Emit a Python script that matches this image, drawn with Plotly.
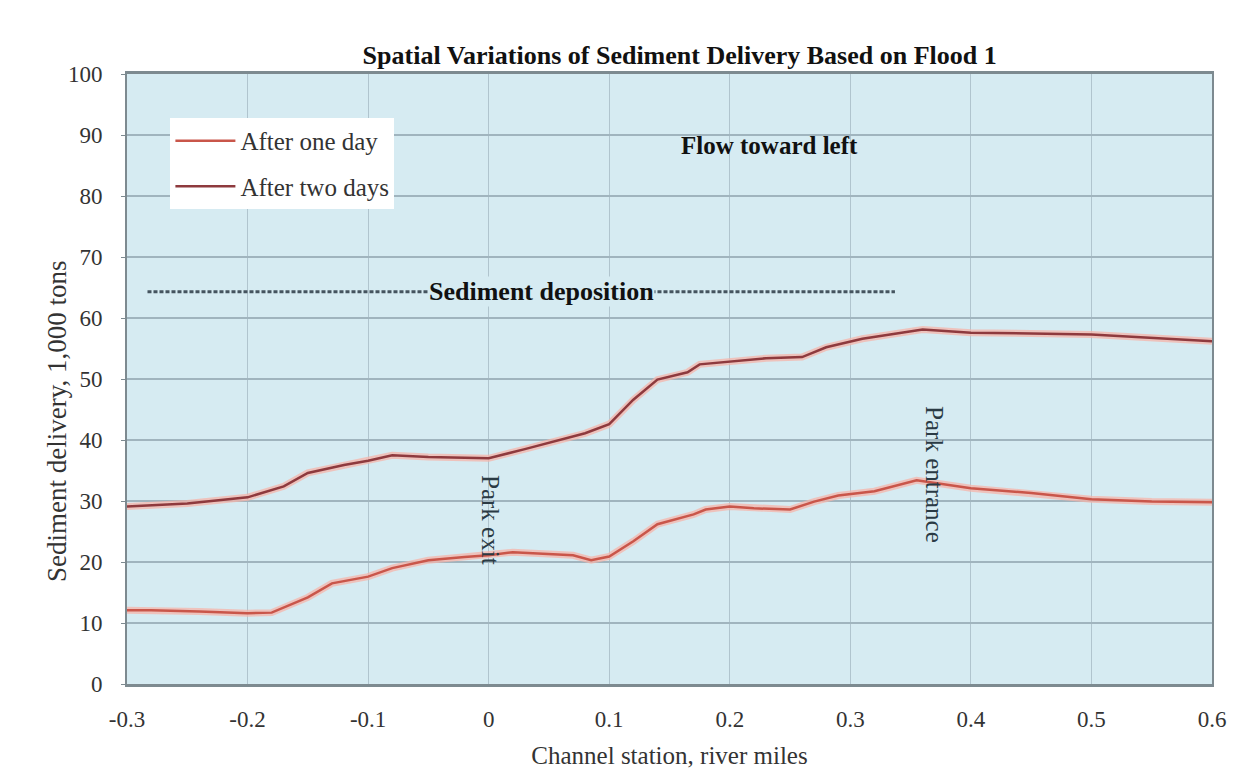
import plotly.graph_objects as go

# Data
x_one_day = [-0.3, -0.28, -0.24, -0.2, -0.18, -0.15, -0.13, -0.1, -0.08, -0.05, -0.02, 0.0, 0.02,
             0.05, 0.07, 0.085, 0.1, 0.12, 0.14, 0.17, 0.18, 0.2, 0.22, 0.25, 0.27, 0.29, 0.32,
             0.355, 0.4, 0.45, 0.5, 0.55, 0.6]
y_one_day = [12.1, 12.1, 11.9, 11.6, 11.7, 14.2, 16.5, 17.6, 19.0, 20.3, 20.8, 21.1, 21.6,
             21.3, 21.1, 20.3, 20.9, 23.4, 26.2, 27.8, 28.6, 29.1, 28.8, 28.6, 29.9, 30.9, 31.6,
             33.4, 32.1, 31.3, 30.3, 29.9, 29.8]

x_two_days = [-0.3, -0.25, -0.2, -0.17, -0.15, -0.12, -0.1, -0.08, -0.05, 0.0, 0.03, 0.06, 0.08,
              0.1, 0.12, 0.14, 0.165, 0.175, 0.2, 0.23, 0.26, 0.28, 0.31, 0.36, 0.4, 0.5, 0.6]
y_two_days = [29.1, 29.6, 30.6, 32.4, 34.6, 35.9, 36.6, 37.5, 37.2, 37.0, 38.5, 40.1, 41.1,
              42.6, 46.6, 49.9, 51.1, 52.4, 52.9, 53.4, 53.6, 55.2, 56.6, 58.1, 57.6, 57.3, 56.2]

series_names = ["After one day", "After two days"]
x_ticks = [-0.3, -0.2, -0.1, 0, 0.1, 0.2, 0.3, 0.4, 0.5, 0.6]
x_tick_labels = ["-0.3", "-0.2", "-0.1", "0", "0.1", "0.2", "0.3", "0.4", "0.5", "0.6"]
y_ticks = [0, 10, 20, 30, 40, 50, 60, 70, 80, 90, 100]

deposition_start, deposition_end, deposition_level = -0.283, 0.337, 64.3

FONT = "Liberation Serif"
BG = "#d6ebf2"

fig = go.Figure()
# soft halos under the lines
for xs, ys in [(x_one_day, y_one_day), (x_two_days, y_two_days)]:
    fig.add_trace(go.Scatter(x=xs, y=ys, mode="lines", showlegend=False, hoverinfo="skip",
                             line=dict(color="rgba(245,180,170,0.75)", width=7)))
fig.add_trace(go.Scatter(x=x_one_day, y=y_one_day, mode="lines", name=series_names[0],
                         legendgroup="a", line=dict(color="#c9564a", width=2.5)))
fig.add_trace(go.Scatter(x=x_two_days, y=y_two_days, mode="lines", name=series_names[1],
                         legendgroup="b", line=dict(color="#8e3a3e", width=2.5)))

# Sediment deposition dashed line
fig.add_shape(type="line", x0=deposition_start, x1=deposition_end, y0=deposition_level,
              y1=deposition_level, xref="x", yref="y",
              line=dict(color="#45545f", width=3, dash="4px,2px"))
fig.add_annotation(x=0.044, y=deposition_level, text="<b>Sediment deposition</b>", showarrow=False,
                   font=dict(family=FONT, size=26, color="#111"), bgcolor=BG, borderpad=0)
fig.add_annotation(x=0.233, y=88.2, text="<b>Flow toward left</b>", showarrow=False,
                   font=dict(family=FONT, size=25, color="#111"))
fig.add_annotation(x=0.001, y=26.9, text="Park exit", showarrow=False, textangle=90,
                   font=dict(family=FONT, size=25, color="#2a3a44"))
fig.add_annotation(x=0.370, y=34.3, text="Park entrance", showarrow=False, textangle=90,
                   font=dict(family=FONT, size=25, color="#2a3a44"))
# y-axis title (placed like the reference, slightly below centre)
fig.add_annotation(xref="paper", yref="paper", x=-0.08, y=0.43, text="Sediment delivery, 1,000 tons",
                   showarrow=False, textangle=-90, font=dict(family=FONT, size=27, color="#333"))

fig.update_layout(
    width=1237, height=772,
    paper_bgcolor="white", plot_bgcolor=BG,
    margin=dict(l=119, r=33, t=66, b=96),
    title=dict(text="<b>Spatial Variations of Sediment Delivery Based on Flood 1</b>",
               x=0.543, xanchor="center", y=0.939, yanchor="middle",
               font=dict(family=FONT, size=26, color="#111")),
    font=dict(family=FONT, size=23, color="#333"),
    legend=dict(x=0.04, y=0.928, xanchor="left", yanchor="top", bgcolor="white",
                borderwidth=0, font=dict(family=FONT, size=25, color="#333"),
                itemwidth=60, tracegroupgap=10),
    showlegend=True,
)
fig.update_xaxes(range=[-0.3, 0.6], tickvals=x_ticks, ticktext=x_tick_labels,
                 showgrid=True, gridcolor="#b0c4ce", gridwidth=1,
                 showline=True, linecolor="#7d8a90", linewidth=3, mirror=True,
                 ticks="", ticklabelstandoff=12, zeroline=False,
                 tickfont=dict(family=FONT, size=23, color="#333"),
                 title=dict(text="Channel station, river miles", standoff=16,
                            font=dict(family=FONT, size=25, color="#333")))
fig.update_yaxes(range=[0, 100], tickvals=y_ticks,
                 showgrid=True, gridcolor="#a0b4be", gridwidth=1.5,
                 showline=True, linecolor="#7d8a90", linewidth=2, mirror=True,
                 ticks="outside", ticklen=4, tickcolor="#7d8a90", zeroline=False,
                 ticklabelstandoff=14,
                 tickfont=dict(family=FONT, size=23, color="#333"))

fig.write_html("out.html")
